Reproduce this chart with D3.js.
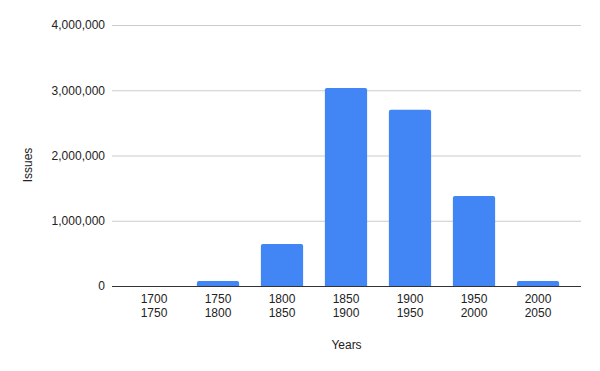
<!DOCTYPE html>
<html>
<head>
<meta charset="utf-8">
<script src="https://cdn.jsdelivr.net/npm/d3@7"></script>
<style>
  body { margin: 0; background: #fff; }
  text { font-family: "Liberation Sans", Arial, sans-serif; }
</style>
</head>
<body>
<div id="chart"></div>
<script>
// data
var periods = [["1700", "1750"], ["1750", "1800"], ["1800", "1850"], ["1850", "1900"],
               ["1900", "1950"], ["1950", "2000"], ["2000", "2050"]];
var issues = [1000, 78000, 645000, 3035000, 2700000, 1380000, 78000];
var yTicks = [0, 1000000, 2000000, 3000000, 4000000];

var width = 600, height = 371;
var gridLeft = 112, gridRight = 581;

var svg = d3.select("#chart").append("svg")
    .attr("width", width)
    .attr("height", height);

var y = d3.scaleLinear().domain([0, 4000000]).range([286, 25]);
var x = d3.scaleBand()
    .domain(periods.map(function(p) { return p[0]; }))
    .range([122, 570])
    .paddingInner(0.34)
    .paddingOuter(0.17);

// grid
var yAxis = svg.append("g")
    .attr("transform", "translate(" + gridLeft + ",0)")
    .call(d3.axisLeft(y).tickValues(yTicks).tickSize(-(gridRight - gridLeft)).tickPadding(7)
        .tickFormat(d3.format(",")));
yAxis.select(".domain").remove();
yAxis.selectAll(".tick line")
    .attr("stroke", function(d) { return d === 0 ? "#333" : "#ccc"; });
yAxis.selectAll(".tick text")
    .attr("fill", "#222")
    .style("font-size", "12px");

// bars with rounded top corners
var r = 2;
svg.append("g").selectAll("path")
    .data(issues)
    .join("path")
    .attr("fill", "#4285f4")
    .attr("d", function(d, i) {
        var x0 = x(periods[i][0]), w = x.bandwidth();
        var y0 = y(d), y1 = y(0);
        if (y1 - y0 < 1) return null; // too small to show
        var rr = Math.min(r, (y1 - y0) / 2);
        return "M" + x0 + "," + y1 +
            "V" + (y0 + rr) +
            "Q" + x0 + "," + y0 + " " + (x0 + rr) + "," + y0 +
            "H" + (x0 + w - rr) +
            "Q" + (x0 + w) + "," + y0 + " " + (x0 + w) + "," + (y0 + rr) +
            "V" + y1 + "Z";
    });

// baseline on top of bars
svg.append("line")
    .attr("x1", gridLeft).attr("x2", gridRight)
    .attr("y1", y(0) + 0.5).attr("y2", y(0) + 0.5)
    .attr("stroke", "#333");

// x labels (two lines)
var xl = svg.append("g").selectAll("text")
    .data(periods)
    .join("text")
    .attr("x", function(p) { return x(p[0]) + x.bandwidth() / 2; })
    .attr("y", 303)
    .attr("text-anchor", "middle")
    .attr("fill", "#222")
    .style("font-size", "12px");
xl.append("tspan").text(function(p) { return p[0]; });
xl.append("tspan")
    .attr("x", function(p) { return x(p[0]) + x.bandwidth() / 2; })
    .attr("dy", 14)
    .text(function(p) { return p[1]; });

// axis titles
svg.append("text")
    .attr("x", (gridLeft + gridRight) / 2)
    .attr("y", 349)
    .attr("text-anchor", "middle")
    .attr("fill", "#222")
    .style("font-size", "12px")
    .text("Years");

svg.append("text")
    .attr("transform", "translate(32,165) rotate(-90)")
    .attr("text-anchor", "middle")
    .attr("fill", "#222")
    .style("font-size", "12px")
    .text("Issues");
</script>
</body>
</html>
